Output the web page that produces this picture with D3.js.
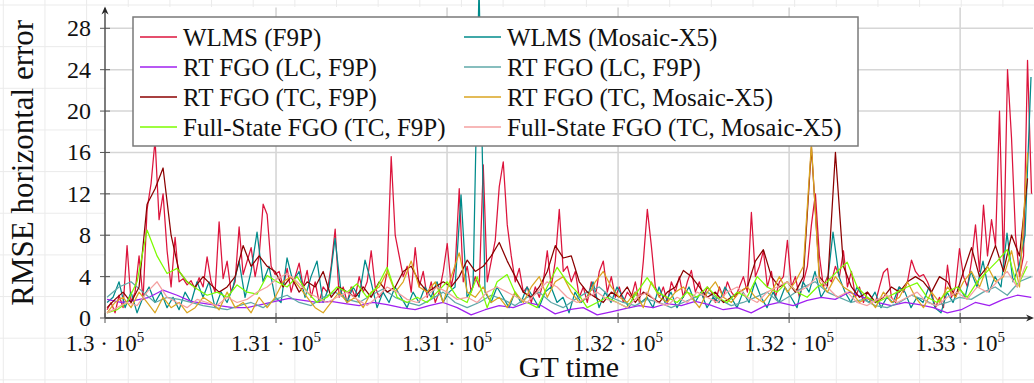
<!DOCTYPE html>
<html>
<head>
<meta charset="utf-8">
<script src="https://cdn.jsdelivr.net/npm/d3@7"></script>
<style>
  body { margin: 0; background: #fff; }
</style>
</head>
<body>
<svg id="chart" width="1034" height="383"></svg>
<script>
// ---- data -------------------------------------------------------------
const seriesNames = [
  "WLMS (F9P)", "WLMS (Mosaic-X5)",
  "RT FGO (LC, F9P)", "RT FGO (LC, F9P)",
  "RT FGO (TC, F9P)", "RT FGO (TC, Mosaic-X5)",
  "Full-State FGO (TC, F9P)", "Full-State FGO (TC, Mosaic-X5)"
];
const seriesColors = ["#dc143c", "#008b8b", "#a020f0", "#5fa8a8",
                      "#8b0000", "#daa520", "#7cfc00", "#f4a0a0"];

const firstSampleTime = 130006;            // GT time of the first sample
const sampleSteps = [11.7, 17.54, 40.94, 35.09, 23.4, 23.4, 29.24, 29.24];

const wlmsF9P = [
  0.8, 1.5, 0.5, 2.2, 1.0, 7.0, 1.5, 2.5, 6.0, 1.8,
  10.5, 13.0, 17.2, 9.5, 12.0, 6.5, 3.0, 7.8, 3.5, 3.8,
  3.2, 3.6, 2.8, 3.9, 3.0, 5.9, 3.5, 2.5, 9.3, 3.8,
  5.5, 2.5, 3.5, 8.8, 4.2, 5.5, 6.8, 4.0, 6.0, 11.0,
  10.0, 5.0, 4.2, 4.5, 3.0, 4.8, 2.5, 4.0, 5.3, 3.0,
  4.6, 2.0, 3.5, 1.5, 3.0, 2.5, 5.0, 8.6, 2.0, 3.0,
  1.5, 3.0, 2.0, 4.0, 2.5, 3.5, 6.5, 3.0, 2.0, 2.5,
  4.5, 15.6, 8.0, 6.0, 4.0, 5.0, 2.5, 6.8, 3.0, 4.5,
  2.0, 3.5, 1.5, 2.5, 4.5, 7.2, 3.0, 5.0, 12.5, 3.5,
  5.0, 2.5, 4.0, 3.0, 14.8, 3.5, 5.5, 7.5, 12.7, 15.1,
  9.0, 6.0, 3.5, 4.8, 2.5, 3.0, 1.5, 3.0, 2.0, 3.5,
  6.5, 3.0, 5.5, 10.5, 4.5, 5.0, 3.5, 4.5, 2.0, 3.0,
  1.5, 3.5, 2.0, 4.5, 5.5, 2.5, 4.0, 2.0, 3.0, 1.5,
  2.5, 2.0, 3.5, 1.5, 5.5, 10.5, 7.0, 3.0, 2.0, 3.0,
  1.5, 3.5, 2.5, 4.0, 2.0, 3.5, 4.6, 2.5, 3.5, 2.0,
  3.0, 2.5, 1.5, 3.0, 2.0, 3.5, 2.5, 2.0, 3.0, 4.0,
  2.5, 10.2, 4.0, 5.0, 6.5, 3.0, 4.5, 2.0, 3.5, 4.0,
  7.5, 3.0, 4.0, 2.0, 3.5, 5.0, 9.0, 12.0, 6.0, 3.0,
  4.0, 3.5, 5.0, 4.0, 6.5, 3.0, 4.5, 2.0, 3.0, 1.5,
  2.5, 2.0, 1.5, 3.0, 4.4, 4.8, 2.0, 1.5, 3.0, 2.5,
  3.5, 5.6, 4.5, 4.0, 4.2, 3.5, 2.5, 1.0, 2.0, 1.0,
  5.1, 2.0, 3.0, 6.7, 4.0, 3.0, 5.5, 9.0, 4.5, 10.9,
  6.0, 9.5, 7.0, 20.0, 5.0, 24.0, 17.4, 8.0, 4.0, 6.0,
  24.9, 12.0
];

const wlmsMosaic = [
  1.5, 2.0, 3.5, 1.0, 2.5, 0.5, 2.0, 3.0, 1.5, 2.5,
  1.0, 2.0, 0.8, 2.5, 1.5, 3.5, 2.0, 3.5, 1.0, 2.5,
  1.5, 3.0, 5.5, 2.0, 4.5, 8.3, 3.5, 5.0, 2.0, 1.5,
  5.8, 3.5, 4.5, 2.0, 4.0, 5.5, 1.5, 3.0, 7.7, 2.5,
  1.5, 3.0, 2.0, 5.6, 3.5, 1.0, 2.5, 1.5, 3.0, 2.0,
  1.0, 2.5, 1.5, 3.0, 2.0, 3.5, 1.5, 2.5, 3.0, 11.9,
  2.0, 3.0, 32.0, 2.5, 1.5, 3.0, 2.0, 1.0, 2.5, 1.5,
  3.0, 2.0, 1.0, 2.5, 3.0, 1.5, 2.0, 0.5, 2.5, 1.5,
  2.0, 3.5, 1.0, 2.5, 1.5, 3.0, 2.0, 1.0, 2.5, 1.5,
  2.0, 1.0, 3.0, 1.5, 2.5, 1.0, 2.0, 3.0, 1.5, 2.5,
  1.0, 2.0, 1.5, 3.0, 2.0, 1.0, 2.5, 1.5, 3.5, 2.0,
  1.0, 2.5, 1.5, 3.0, 2.0, 1.0, 3.5, 2.5, 4.5, 2.0,
  3.0, 8.3, 4.0, 2.5, 1.5, 3.0, 2.0, 1.5, 2.5, 1.0,
  2.0, 1.5, 3.0, 2.5, 1.0, 2.0, 1.5, 3.0, 1.0, 0.5,
  2.5, 1.5, 3.0, 2.0, 4.5, 3.0, 5.5, 2.5, 4.0, 3.0,
  8.2, 3.5, 5.0, 8.0, 23.3
];

const rtLcF9P = [
  1.8, 1.5, 1.7, 2.0, 2.7, 2.2, 1.6, 1.4, 1.2, 1.0,
  1.0, 1.3, 1.6, 1.9, 1.7, 1.5, 1.6, 1.4, 1.2, 1.5,
  1.3, 1.0, 0.8, 1.2, 1.5, 1.0, 0.3, 0.8, 1.2, 1.0,
  1.5, 1.2, 0.4, 0.8, 1.0, 0.3, 0.6, 0.9, 1.2, 1.0,
  1.4, 1.2, 1.6, 1.3, 0.8, 1.0, 0.5, 1.2, 1.5, 1.2,
  1.7, 2.0, 1.8, 2.5, 2.0, 1.5, 1.2, 1.5, 1.3, 1.0,
  0.5, 0.8, 1.5, 1.2, 1.8, 2.2, 2.0
];

const rtLcF9PSecond = [
  2.0, 3.0, 3.5, 2.5, 1.5, 2.0, 1.8, 1.5, 1.2, 1.0,
  0.8, 1.2, 1.5, 1.0, 1.8, 2.2, 1.5, 1.2, 2.0, 2.5,
  1.8, 1.5, 2.2, 2.8, 2.0, 1.5, 1.2, 1.8, 2.5, 1.5,
  1.0, 1.5, 2.2, 1.8, 1.2, 2.0, 2.5, 1.5, 1.0, 1.8,
  2.5, 3.0, 2.0, 1.5, 1.2, 1.8, 1.5, 1.0, 1.5, 2.0,
  2.5, 1.8, 1.2, 1.5, 2.0, 2.5, 1.5, 2.2, 3.0, 3.5,
  2.5, 2.0, 1.5, 1.8, 1.2, 1.0, 1.5, 2.2, 1.8, 1.2,
  1.5, 2.0, 1.8, 2.5, 3.0, 2.2, 3.5, 4.0
];

const rtTcF9P = [
  1.0, 1.8, 2.5, 1.5, 3.0, 11.0, 12.5, 14.5, 8.0, 4.5,
  3.5, 3.0, 4.0, 3.2, 2.5, 3.0, 4.0, 7.0, 5.0, 6.0,
  5.0, 4.5, 3.0, 4.0, 2.5, 3.5, 3.0, 4.5, 2.0, 3.0,
  2.5, 2.0, 3.0, 2.0, 3.5, 2.5, 3.0, 4.5, 5.0, 3.5,
  2.5, 3.0, 3.5, 3.0, 4.0, 5.6, 4.5, 5.0, 6.0, 7.3,
  5.5, 4.0, 2.5, 2.0, 3.0, 4.5, 7.0, 5.8, 6.0, 3.5,
  2.5, 2.0, 1.5, 2.5, 2.0, 3.0, 1.5, 2.5, 2.0, 1.5,
  2.5, 3.0, 4.6, 4.0, 3.0, 2.0, 2.5, 1.5, 2.0, 2.5,
  3.0, 5.5, 6.6, 4.0, 3.0, 3.5, 2.5, 4.0, 16.5, 4.0,
  3.0, 16.0, 5.0, 3.0, 2.0, 2.5, 1.5, 2.0, 3.0, 2.5,
  3.5, 4.0, 3.5, 2.5, 4.0, 3.5, 2.0, 4.5, 6.8, 4.0,
  5.0, 7.0, 4.5, 8.0, 6.0, 13.5
];

const rtTcMosaic = [
  0.5, 1.5, 2.0, 1.0, 2.5, 1.5, 0.5, 2.0, 1.0, 1.5,
  0.5, 1.0, 2.0, 1.5, 0.8, 2.5, 1.0, 1.5, 0.5, 2.0,
  1.0, 2.0, 3.5, 4.0, 3.0, 2.0, 1.0, 0.5, 1.5, 2.5,
  1.5, 2.0, 1.0, 2.5, 3.0, 4.5, 2.5, 3.5, 5.5, 3.0,
  2.5, 3.5, 1.5, 4.0, 6.3, 2.5, 2.0, 3.0, 1.5, 2.0,
  1.0, 2.5, 1.5, 3.0, 4.0, 2.0, 3.5, 4.0, 2.5, 1.5,
  2.0, 3.5, 4.5, 3.0, 2.0, 1.5, 2.5, 1.0, 3.5, 2.0,
  1.5, 2.5, 3.0, 2.0, 1.0, 2.5, 3.5, 2.0, 1.5, 2.5,
  3.0, 2.0, 1.5, 2.5, 4.0, 2.5, 3.5, 5.0, 16.8, 3.5,
  2.5, 4.0, 3.0, 2.5, 1.5, 2.0, 1.0, 2.5, 1.5, 2.0,
  3.5, 2.0, 1.0, 2.5, 1.5, 3.0, 2.0, 3.5, 4.5, 3.0,
  5.0, 3.5, 4.0, 6.5, 3.0, 16.0
];

const fullStateF9P = [
  0.5, 0.8, 1.5, 3.5, 8.5, 6.0, 4.3, 4.8, 3.5, 2.8,
  2.2, 2.5, 2.0, 3.2, 2.5, 2.3, 4.1, 3.5, 3.0, 4.0,
  2.5, 1.5, 2.0, 3.0, 2.5, 3.3, 2.0, 3.0, 4.9, 2.0,
  1.5, 2.0, 1.5, 2.5, 3.5, 2.0, 1.5, 4.0, 1.0, 3.5,
  4.2, 2.0, 1.5, 1.0, 3.0, 4.9, 3.5, 2.5, 1.0, 1.5,
  2.0, 1.5, 1.0, 2.5, 3.9, 2.5, 2.0, 1.5, 2.5, 2.0,
  3.0, 2.0, 1.5, 2.5, 2.0, 4.0, 3.0, 2.5, 3.5, 2.5,
  2.0, 3.0, 3.5, 4.5, 5.4, 3.0, 2.0, 1.5, 2.0, 2.5,
  3.0, 3.4, 2.0, 1.5, 2.5, 3.0, 2.0, 3.5, 4.5, 5.5,
  6.6, 3.0, 5.0
];

const fullStateMosaic = [
  0.5, 1.0, 1.5, 1.2, 2.5, 3.5, 2.0, 1.5, 1.0, 1.8,
  1.5, 1.2, 2.0, 1.5, 1.8, 2.5, 3.0, 3.8, 4.3, 3.5,
  2.5, 2.0, 1.5, 2.0, 2.5, 1.8, 1.2, 2.0, 3.0, 2.5,
  1.8, 1.5, 2.2, 3.0, 2.5, 1.8, 2.0, 1.5, 2.5, 3.0,
  2.5, 2.0, 1.5, 2.5, 3.5, 3.0, 2.0, 1.5, 2.0, 2.5,
  1.8, 1.5, 1.0, 2.0, 2.5, 1.5, 1.2, 2.0, 1.5, 2.5,
  2.0, 1.5, 2.5, 3.0, 2.0, 1.5, 2.5, 3.0, 3.5, 2.5,
  3.0, 4.0, 3.0, 2.0, 2.5, 1.5, 1.2, 1.8, 2.2, 1.5,
  2.0, 2.5, 1.5, 1.2, 2.0, 2.5, 1.8, 3.0, 2.5, 3.5,
  4.5, 3.0, 5.5
];

const seriesValues = [wlmsF9P, wlmsMosaic, rtLcF9P, rtLcF9PSecond,
                      rtTcF9P, rtTcMosaic, fullStateF9P, fullStateMosaic];

const xTickValues = [130000, 130500, 131000, 131500, 132000, 132500];
const xTickMantissas = ["1.3", "1.31", "1.31", "1.32", "1.32", "1.33"];
const xTickExponent = "5";
const yTickValues = [0, 4, 8, 12, 16, 20, 24, 28];

// ---- layout -------------------------------------------------------------
const W = 1034, H = 383;
const plot = { left: 105, right: 1033, top: 7.6, bottom: 318 };
const serif = "'Liberation Serif', 'DejaVu Serif', 'Times New Roman', serif";
const svg = d3.select("#chart").attr("font-family", serif);

const x = d3.scaleLinear().domain([130000, 132713]).range([plot.left, plot.right]);
const y = d3.scaleLinear().domain([0, 30]).range([plot.bottom, plot.top]);

// graph-paper background behind everything
const paperStep = 41.65;
const paper = svg.append("g").attr("stroke", "#ebebeb").attr("stroke-width", 1);
paper.selectAll("line.v").data(d3.range(3.3, W, paperStep)).join("line")
  .attr("x1", d => d).attr("x2", d => d).attr("y1", 0).attr("y2", H);
paper.selectAll("line.h").data(d3.range(5, H, paperStep)).join("line")
  .attr("x1", 0).attr("x2", W).attr("y1", d => d).attr("y2", d => d);

// plot area
svg.append("rect")
  .attr("x", plot.left).attr("y", plot.top - 0.6)
  .attr("width", W - plot.left).attr("height", plot.bottom - plot.top + 0.6)
  .attr("fill", "#fff");

// major grid
const grid = svg.append("g").attr("stroke", "#d6d6d6").attr("stroke-width", 1.6);
grid.selectAll("line.gy").data(yTickValues.filter(v => v > 0)).join("line")
  .attr("x1", plot.left).attr("x2", plot.right)
  .attr("y1", d => y(d)).attr("y2", d => y(d));
grid.selectAll("line.gx").data(xTickValues.slice(1)).join("line")
  .attr("x1", d => x(d)).attr("x2", d => x(d))
  .attr("y1", plot.top).attr("y2", plot.bottom);

// series lines
const line = d3.line()
  .x(d => x(d.t)).y(d => y(d.v));
const series = seriesValues.map((vals, k) => ({
  name: seriesNames[k],
  color: seriesColors[k],
  points: vals.map((v, i) => ({ t: firstSampleTime + i * sampleSteps[k], v }))
}));
svg.append("g").selectAll("path").data(series).join("path")
  .attr("d", d => line(d.points))
  .attr("fill", "none")
  .attr("stroke", d => d.color)
  .attr("stroke-width", 1.25)
  .attr("stroke-linejoin", "round");

// axes
const axisColor = "#262626";
const axes = svg.append("g").attr("stroke", axisColor);
axes.append("line")
  .attr("x1", plot.left).attr("x2", plot.left)
  .attr("y1", plot.bottom).attr("y2", plot.top + 1)
  .attr("stroke-width", 1.2);
axes.append("line")
  .attr("x1", plot.left).attr("x2", plot.right - 1)
  .attr("y1", plot.bottom).attr("y2", plot.bottom)
  .attr("stroke-width", 1.4);
// arrow heads
svg.append("path")
  .attr("d", `M${plot.left},${plot.top - 1} l-3.5,8 l3.5,-2.5 l3.5,2.5 z`)
  .attr("fill", axisColor);
svg.append("path")
  .attr("d", `M${plot.right + 1},${plot.bottom} l-8,-3.5 l2.5,3.5 l-2.5,3.5 z`)
  .attr("fill", axisColor);

// y ticks and labels
const yAxis = svg.append("g");
yAxis.selectAll("line").data(yTickValues).join("line")
  .attr("x1", plot.left - 5).attr("x2", plot.left + 5)
  .attr("y1", d => y(d)).attr("y2", d => y(d))
  .attr("stroke", "#555").attr("stroke-width", 1);
yAxis.selectAll("text").data(yTickValues).join("text")
  .attr("x", plot.left - 14).attr("y", d => y(d))
  .attr("dominant-baseline", "central")
  .attr("text-anchor", "end")
  .attr("font-size", 24).attr("fill", "#111")
  .text(d => d);

// x ticks and labels
const xAxis = svg.append("g");
xAxis.selectAll("line").data(xTickValues).join("line")
  .attr("x1", d => x(d)).attr("x2", d => x(d))
  .attr("y1", plot.bottom - 5).attr("y2", plot.bottom + 5)
  .attr("stroke", "#555").attr("stroke-width", 1);
const xLabels = xAxis.selectAll("text").data(xTickValues).join("text")
  .attr("x", d => x(d)).attr("y", 351)
  .attr("text-anchor", "middle")
  .attr("font-size", 23).attr("fill", "#111");
xLabels.append("tspan").text((d, i) => `${xTickMantissas[i]} \u00b7 10`);
xLabels.append("tspan").attr("font-size", 15).attr("dy", -9).text(xTickExponent);

// axis titles
svg.append("text")
  .attr("x", (plot.left + plot.right) / 2).attr("y", 377)
  .attr("text-anchor", "middle").attr("font-size", 30).attr("fill", "#111")
  .text("GT time");
svg.append("text")
  .attr("transform", `translate(33, ${(plot.top + plot.bottom) / 2}) rotate(-90)`)
  .attr("text-anchor", "middle").attr("font-size", 31).attr("fill", "#111")
  .text("RMSE horizontal error");

// legend: two columns, filled row by row
const legend = svg.append("g");
legend.append("rect")
  .attr("x", 133).attr("y", 17).attr("width", 725).attr("height", 129)
  .attr("fill", "#fff").attr("stroke", "#7a7a7a").attr("stroke-width", 1.5);
const colX = [140, 464];
const rowY = i => 37 + 30 * i;
const entries = legend.selectAll("g.entry").data(series).join("g")
  .attr("transform", (d, i) => `translate(${colX[i % 2]}, ${rowY(Math.floor(i / 2))})`);
entries.append("line")
  .attr("x1", 0).attr("x2", 37).attr("y1", 0).attr("y2", 0)
  .attr("stroke", d => d.color).attr("stroke-width", 1.4);
entries.append("text")
  .attr("x", 43).attr("y", 8.5)
  .attr("font-size", 25).attr("fill", "#111")
  .text(d => d.name);
</script>
</body>
</html>
